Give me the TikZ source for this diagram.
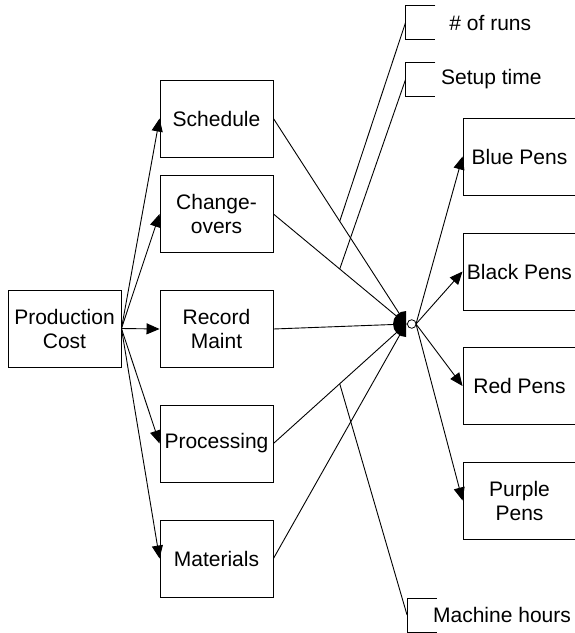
\documentclass[tikz,border=0pt]{standalone}
\usepackage{fontspec}
\setmainfont{Liberation Sans}
\usetikzlibrary{arrows.meta}

\tikzset{
  box/.style={draw,minimum width=113pt,minimum height=77pt,inner sep=0pt,align=center},
  tick/.style={minimum width=29pt,minimum height=33pt,inner sep=0pt},
  tag/.style={anchor=west,inner sep=0pt},
}

\begin{document}
\begin{tikzpicture}[x=1pt,y=-1pt,line width=0.9pt,>={Triangle[length=13pt,width=11pt]},font=\fontsize{21}{24}\selectfont]
\useasboundingbox (0,0) rectangle (575,633);
% left column
\node[box] (cost) at (64.5,328.5) {Production\\Cost};
\node[box] (sched) at (216.5,118.5) {Schedule};
\node[box] (chg) at (216.5,214) {Change-\\overs};
\node[box] (rec) at (216.5,329) {Record\\Maint};
\node[box] (proc) at (216.5,443.5) {Processing};
\node[box] (mat) at (216.5,558.5) {Materials};
% pens
\node[box] (blue) at (519.5,156.5) {Blue Pens};
\node[box] (black) at (519.5,271.5) {Black Pens};
\node[box] (red) at (519.5,386) {Red Pens};
\node[box] (purple) at (519.5,500.5) {Purple\\Pens};
% side notes
\node[tick] (runs) at (420.5,22.5) {};
\node[tick] (setup) at (420.5,79.5) {};
\node[tick] (mach) at (422,615) {};
\node[tag] (runs-t) at (449,22.5) {\# of runs};
\node[tag] (setup-t) at (440.7,79.5) {Setup time};
\node[tag] (mach-t) at (432.7,615) {Machine hours};
\foreach \n in {runs,setup,mach}
  \draw (\n.north east) -- (\n.north west) -- (\n.south west) -- (\n.south east);

\coordinate (jin) at (406,324);
\coordinate (jout) at (416,324);

\foreach \n in {sched,chg,rec,proc,mat}
  \draw[->] (cost.east) -- (\n.west);
\draw (sched.east) -- coordinate[pos=0.5] (a1) (jin);
\draw (chg.east) -- coordinate[pos=0.5] (a2) (jin);
\draw (rec.east) -- (jin);
\draw (proc.east) -- coordinate[pos=0.5] (a3) (jin);
\draw (mat.east) -- (jin);
\draw (a1) -- (runs.west);
\draw (a2) -- (setup.west);
\draw (a3) -- (mach.west);
\foreach \n in {blue,black,red,purple}
  \draw[->] (jout) -- (\n.west);

% junction
\fill (406,311) arc[start angle=90,end angle=270,radius=13pt] -- cycle;
\draw[fill=white,line width=0.8pt] (411.7,324) circle (4.3pt);
\end{tikzpicture}
\end{document}
